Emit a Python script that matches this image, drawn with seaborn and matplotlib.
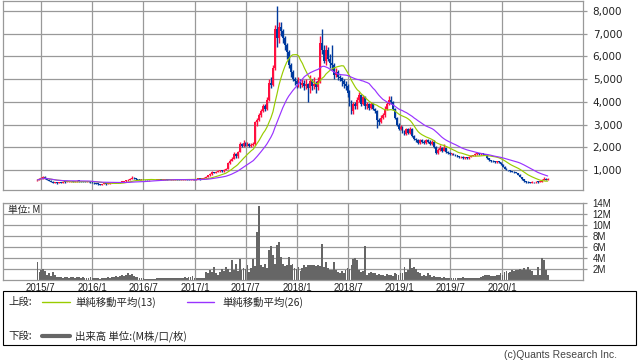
import pandas as pd
import matplotlib
matplotlib.use('Agg')
import matplotlib.pyplot as plt
from matplotlib.patches import Rectangle
from matplotlib.lines import Line2D
import seaborn as sns

# weekly candles, first week 2015-06-19
first_open = 520
closes = [
    560, 620, 640, 700, 640, 580,
    520, 480, 450, 470, 430, 460, 440, 480, 470, 490,
    500, 510, 490, 500, 520, 510, 500, 490, 480, 500, 490, 470,
    450, 420, 400, 380, 360, 380, 400, 380, 400, 420,
    440, 450, 460, 450, 470, 480, 500,
    540, 580, 620, 660, 640, 600,
    580, 560, 570, 560, 550, 540, 550, 560, 550, 560,
    560, 570, 560, 570, 580, 570, 560, 570, 580, 590, 580, 570, 580, 590, 600, 590, 580,
    590, 600, 590, 600, 610, 600, 620, 650,
    700, 760, 820, 900, 870, 920, 950, 980, 940, 1000, 1050, 1300, 1400, 1500,
    1700, 1600, 1800, 2150, 2050, 2200, 2100, 2150, 2050, 2100, 2150, 3100, 3200, 3400, 3600, 3800,
    3700, 4100, 4850, 4750, 5500,
    7200, 6800, 7300, 7100, 6800, 6500, 6200, 5600, 5300, 5000, 4900,
    4800, 4900, 4750, 4850, 4700, 4800, 4600, 4900, 4700, 4800, 4650, 4900,
    6600, 6300, 5800, 6300, 5900, 5700, 5600, 5200, 5300, 5100, 5050, 4900, 4800, 4700, 4400, 4000, 3600,
    3900, 3800, 4100, 4300, 3900, 4200, 3800, 3900, 3750, 3900, 3700, 3600, 3200, 3100, 3300,
    3400, 3700, 3900, 4100, 4000, 3700, 3300, 3000, 2800, 2900, 2700, 2600, 2800, 2650, 2800,
    2500, 2350, 2300, 2200, 2300, 2250, 2200, 2300, 2250, 2150, 2250, 2000, 1750, 1900, 1950,
    1850, 1950, 1800, 1750, 1700, 1720, 1680, 1650, 1600, 1560, 1580, 1530, 1560, 1520, 1580,
    1620, 1650, 1700, 1720, 1700, 1740, 1700, 1680, 1520, 1420, 1400, 1380, 1350, 1380, 1340,
    1250, 1150, 1050, 1000, 980, 950, 920, 900, 880, 800, 700, 600, 520, 480, 460,
    450, 470, 460, 480, 470, 480, 560, 620, 580, 620,
]
highs = [
    600, 650, 680, 750, 720, 660,
    590, 540, 500, 490, 480, 480, 470, 500, 500, 510,
    520, 530, 520, 520, 540, 530, 520, 510, 500, 520, 510, 500,
    480, 460, 430, 410, 390, 400, 420, 410, 420, 440,
    460, 470, 480, 480, 490, 500, 520,
    560, 600, 650, 720, 680, 650,
    610, 590, 590, 580, 570, 560, 570, 580, 570, 580,
    580, 590, 580, 590, 600, 590, 580, 590, 600, 610, 600, 590, 600, 610, 620, 610, 600,
    610, 620, 610, 620, 630, 620, 640, 680,
    730, 790, 860, 950, 920, 960, 1000, 1020, 990, 1050, 1100, 1350, 1480, 1560,
    1780, 1750, 1850, 2250, 2200, 2300, 2250, 2250, 2200, 2200, 2250, 3150, 3300, 3500, 3700, 3900,
    3900, 4200, 5000, 5100, 5600,
    7400, 8200, 7500, 7500, 7200, 6900, 6600, 6300, 5700, 5400, 5100,
    5000, 5100, 5000, 5000, 4950, 5000, 4850, 5200, 5000, 5100, 4900, 5100,
    6900, 7200, 6500, 6500, 6400, 6100, 6500, 5700, 5500, 5400, 5200, 5100, 5000, 4900, 4800, 4500, 4100,
    4000, 4000, 4200, 4450, 4350, 4300, 4250, 4000, 3950, 4000, 3950, 3750, 3650, 3300, 3400,
    3500, 3800, 4000, 4250, 4250, 4050, 3750, 3350, 3050, 3000, 2950, 2750, 2850, 2850, 2900,
    2850, 2550, 2400, 2350, 2350, 2350, 2300, 2350, 2350, 2300, 2300, 2300, 2050, 1950, 2100,
    2000, 2150, 1980, 1830, 1780, 1760, 1750, 1710, 1680, 1630, 1610, 1600, 1590, 1580, 1610,
    1650, 1680, 1740, 1770, 1750, 1770, 1760, 1720, 1690, 1540, 1440, 1420, 1400, 1410, 1400,
    1350, 1260, 1160, 1070, 1020, 1000, 970, 940, 920, 890, 810, 710, 610, 530, 500,
    480, 500, 490, 500, 500, 500, 600, 680, 660, 650,
]
lows = [
    500, 540, 600, 620, 620, 560,
    500, 460, 420, 430, 400, 420, 410, 430, 450, 460,
    470, 480, 470, 480, 490, 490, 480, 470, 460, 470, 460, 450,
    430, 400, 380, 350, 320, 340, 370, 350, 370, 390,
    410, 420, 440, 430, 440, 460, 470,
    490, 520, 560, 600, 620, 580,
    570, 550, 550, 540, 530, 520, 530, 540, 540, 540,
    540, 550, 540, 550, 560, 550, 540, 550, 560, 570, 560, 550, 560, 570, 580, 570, 560,
    570, 580, 570, 580, 590, 580, 590, 610,
    640, 680, 740, 800, 850, 860, 900, 930, 920, 930, 980, 1040, 1250, 1380,
    1480, 1550, 1550, 1780, 2000, 2000, 2050, 2050, 2000, 2000, 2050, 2100, 2950, 3150, 3350, 3550,
    3600, 3650, 4050, 4600, 4700,
    5400, 6400, 6600, 6900, 6600, 6300, 5900, 5500, 5100, 4900, 4750,
    4600, 4650, 4600, 4650, 4500, 4550, 4000, 4400, 4500, 4550, 4400, 4500,
    4850, 6100, 5700, 5600, 5800, 5500, 5400, 5000, 5100, 4950, 4900, 4700, 4600, 4500, 4200, 3800, 3450,
    3450, 3700, 3700, 4000, 3800, 3850, 3700, 3700, 3650, 3700, 3650, 3500, 2860, 3000, 3050,
    3250, 3350, 3650, 3850, 3900, 3650, 3250, 2950, 2750, 2750, 2650, 2550, 2550, 2600, 2600,
    2450, 2300, 2250, 2150, 2150, 2200, 2150, 2150, 2200, 2100, 2100, 1950, 1700, 1700, 1850,
    1800, 1820, 1760, 1720, 1670, 1670, 1650, 1620, 1570, 1530, 1530, 1500, 1500, 1490, 1500,
    1560, 1600, 1630, 1680, 1670, 1680, 1670, 1650, 1500, 1400, 1370, 1350, 1320, 1330, 1310,
    1230, 1130, 1030, 980, 950, 920, 900, 870, 850, 780, 680, 570, 490, 450, 430,
    420, 440, 440, 450, 450, 460, 470, 550, 560, 570,
]
# volume in millions
volume_m = [
    3.2, 1.5, 1.8, 2.0, 1.7, 1.0, 1.2, 0.7, 1.4, 0.9, 0.6, 0.5, 0.6,
    0.4, 0.5, 0.6, 0.4, 0.5, 0.5, 0.4, 0.6, 0.5, 0.4, 0.5, 0.4, 0.3, 0.4, 0.5,
    0.4, 0.3, 0.3, 0.4, 0.2, 0.3, 0.3, 0.4, 0.5, 0.4, 0.6, 0.5, 0.7, 0.6, 0.8,
    0.9, 0.8, 1.0, 1.2, 0.9, 1.1, 0.8, 0.6, 0.5,
    0.4, 0.3, 0.3, 0.2, 0.2, 0.1, 0.1, 0.2, 0.2, 0.3, 0.3, 0.3, 0.4, 0.3, 0.3, 0.4, 0.4,
    0.3, 0.3, 0.4, 0.3, 0.4, 0.4, 0.5, 0.4, 0.5, 0.6, 0.7, 0.4, 0.3, 0.3, 0.3, 0.3, 0.4,
    1.4, 1.3, 1.8, 1.5, 2.4, 1.2, 1.0, 1.4, 2.0, 1.6,
    2.4, 2.0, 1.5, 3.6, 1.8, 3.0, 1.6, 3.8, 1.9, 2.1,
    2.0, 2.7, 1.5, 2.2, 3.8, 2.5, 8.8, 13.5, 2.7, 2.4,
    3.0, 2.2, 5.5, 6.1, 4.5, 3.0, 6.4, 7.0, 4.2, 3.0,
    2.5, 2.8, 4.2, 2.7, 3.0, 2.1, 2.0, 2.4, 1.6, 2.2,
    2.8, 2.4, 2.8, 2.8, 2.7, 2.8, 2.6, 2.7, 2.5, 6.5,
    2.4, 3.3, 2.2, 1.8, 1.8, 3.3, 1.8, 1.4, 1.2, 1.6,
    1.2, 1.8, 2.1, 2.0, 2.8, 3.9, 4.0, 3.6, 1.8, 1.4,
    1.7, 6.2, 0.9, 1.2, 1.4,
    1.3, 1.2, 1.0, 1.1, 0.9, 1.0, 0.8, 1.1, 0.9, 1.0, 0.8, 1.2, 1.1, 0.9, 1.2,
    1.3, 2.4, 1.4, 1.8, 3.9, 2.1, 2.4, 2.0, 1.5, 1.2, 0.8, 1.0, 0.8, 1.2,
    1.0, 0.6, 0.8, 0.6, 0.5, 0.5, 0.4, 0.5, 0.4, 0.4, 0.3, 0.4, 0.3, 0.3, 0.4,
    0.3, 0.4, 0.5, 0.4, 0.4, 0.3, 0.3, 0.4, 0.4, 0.3, 0.3, 0.5, 0.7,
    0.9, 1.0, 0.9, 0.8, 0.8, 0.7, 0.9, 1.0, 1.2, 1.0, 1.4, 1.6, 1.2, 1.5, 1.8,
    1.6, 1.9, 1.8, 2.0, 1.8, 2.1, 1.9, 2.4, 1.8, 1.7, 0.9, 1.0, 2.4, 0.9, 4.0,
    3.6, 1.8, 1.0,
]
tick_dates = ['2015-07-01', '2016-01-01', '2016-07-01', '2017-01-01', '2017-07-01',
              '2018-01-01', '2018-07-01', '2019-01-01', '2019-07-01', '2020-01-01']
tick_labels = ['2015/7', '2016/1', '2016/7', '2017/1', '2017/7',
               '2018/1', '2018/7', '2019/1', '2019/7', '2020/1']
price_ticks = [1000, 2000, 3000, 4000, 5000, 6000, 7000, 8000]
vol_ticks = [2, 4, 6, 8, 10, 12, 14]

df = pd.DataFrame({
    'date': pd.date_range('2015-06-19', periods=len(closes), freq='7D'),
    'close': closes, 'high': highs, 'low': lows, 'volume': volume_m,
})
df['open'] = df['close'].shift(1).fillna(first_open)
df['ma13'] = df['close'].rolling(13, min_periods=1).mean()
df['ma26'] = df['close'].rolling(26, min_periods=1).mean()
df['up'] = df['close'] >= df['open']

sns.set_style('white')
plt.rcParams['font.family'] = ['DejaVu Sans', 'Noto Sans CJK JP']
jp = ['Noto Sans CJK JP', 'DejaVu Sans']

RED = '#ff1040'
BLUE = '#003a9e'
GRID = '#999999'
W, H = 638, 362

fig = plt.figure(figsize=(6.38, 3.62), dpi=100)
ax1 = fig.add_axes([3 / W, 1 - 190 / H, 580 / W, 189.5 / H])
ax2 = fig.add_axes([3 / W, 1 - 280 / H, 580 / W, 77 / H])

xmin, xmax = pd.Timestamp('2015-02-16'), pd.Timestamp('2020-10-16')
ticks = pd.to_datetime(tick_dates)

# candles
colors = [RED if u else BLUE for u in df['up']]
lo = df[['low', 'open', 'close']].min(axis=1)
hi = df[['high', 'open', 'close']].max(axis=1)
ax1.vlines(df['date'], lo, hi, colors=colors, lw=1.0, zorder=2)
body_bot = df[['open', 'close']].min(axis=1)
body_h = (df['close'] - df['open']).abs().clip(lower=30)
ax1.bar(df['date'], body_h, bottom=body_bot, width=6.5, color=colors, lw=0, zorder=2)

sns.lineplot(data=df, x='date', y='ma13', ax=ax1, color='#99cc00', lw=0.85, legend=False, zorder=3)
sns.lineplot(data=df, x='date', y='ma26', ax=ax1, color='#9933ff', lw=0.85, legend=False, zorder=3)

ax1.set_xlim(xmin, xmax)
ax1.set_ylim(120, 8460)
ax1.set_yticks(price_ticks)
ax1.set_yticklabels([f'{v:,}' for v in price_ticks])
ax1.set_xticks(ticks)
ax1.yaxis.tick_right()
ax1.tick_params(axis='x', length=0, labelbottom=False)
ax1.tick_params(axis='y', length=3, width=0.9, color=GRID, pad=4, labelsize=7.5, labelcolor='#222222')
ax1.grid(True, color=GRID, lw=0.9)
ax1.set_xlabel('')
ax1.set_ylabel('')

# volume
ax2.bar(df['date'], df['volume'], width=6.5, color='#666666', lw=0, zorder=2)
ax2.set_xlim(xmin, xmax)
ax2.set_ylim(0, 14)
ax2.set_yticks(vol_ticks)
ax2.set_yticklabels([f'{v}M' for v in vol_ticks], family='Liberation Sans')
ax2.set_xticks(ticks)
ax2.set_xticklabels(tick_labels, family='Liberation Sans')
ax2.yaxis.tick_right()
ax2.tick_params(axis='x', length=0, pad=2, labelsize=7, labelcolor='#222222')
ax2.tick_params(axis='y', length=3, width=0.9, color=GRID, pad=4, labelsize=7, labelcolor='#222222')
ax2.grid(True, color=GRID, lw=0.9)

for ax in (ax1, ax2):
    for s in ax.spines.values():
        s.set_color(GRID)
        s.set_linewidth(0.9)

fig.text(8 / W, 1 - 210 / H, '単位: M', family=jp, fontsize=7, va='center', color='#222222')

# legend box
fig.add_artist(Rectangle((3 / W, 1 - 345 / H), 633 / W, 54 / H, transform=fig.transFigure,
                         fill=False, ec='black', lw=0.8))
y1, y2 = 1 - 302 / H, 1 - 336 / H
fig.text(8 / W, y1, '上段:', family=jp, fontsize=7.5, va='center')
fig.add_artist(Line2D([42 / W, 70 / W], [y1, y1], color='#99cc00', lw=1.0, transform=fig.transFigure))
fig.text(75 / W, y1, '単純移動平均(13)', family=jp, fontsize=7.5, va='center')
fig.add_artist(Line2D([187 / W, 214 / W], [y1, y1], color='#9933ff', lw=1.0, transform=fig.transFigure))
fig.text(222 / W, y1, '単純移動平均(26)', family=jp, fontsize=7.5, va='center')
fig.text(8 / W, y2, '下段:', family=jp, fontsize=7.5, va='center')
fig.add_artist(Line2D([42 / W, 70 / W], [y2, y2], color='#666666', lw=3.0, transform=fig.transFigure))
fig.text(75 / W, y2, '出来高 単位:(M株/口/枚)', family=jp, fontsize=7.5, va='center')

fig.text(617 / W, 1 - 355 / H, '(c)Quants Research Inc.', family='Liberation Sans',
         fontsize=7.5, ha='right', va='center', color='#444444')

fig.savefig('out.png', dpi=100)
